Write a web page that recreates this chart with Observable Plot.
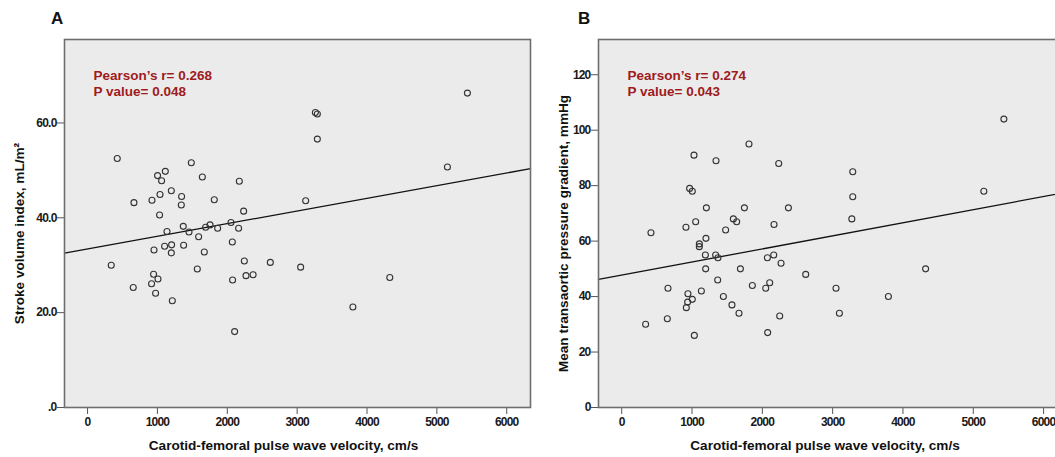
<!DOCTYPE html>
<html><head><meta charset="utf-8">
<script src="https://cdn.jsdelivr.net/npm/d3@7"></script>
<script src="https://cdn.jsdelivr.net/npm/@observablehq/plot@0.6"></script>
<style>
html,body{margin:0;padding:0;background:#fff;overflow:hidden;}
#wrap{position:relative;width:1055px;height:457px;overflow:hidden;background:#fff;}
.panel{position:absolute;top:0;}
.letter{position:absolute;top:9px;font:bold 17px "Liberation Sans", Arial, sans-serif;color:#111;}
</style></head><body><div id="wrap"></div><script>
// ---- Panel A data: PWV (cm/s) vs stroke volume index (mL/m²)
const pwvA = [339,425,654,664,916,922,945,951,974,1002,1008,1031,1037,1060,1103,1113,1137,1199,1199,1203,1213,1342,1346,1370,1375,1452,1485,1571,1590,1643,1671,1690,1753,1814,1862,2053,2072,2076,2105,2162,2172,2234,2244,2268,2369,2616,3050,3122,3261,3289,3289,3798,4326,5151,5437];
const sviA = [30.0,52.5,25.3,43.2,26.1,43.7,28.1,33.2,24.1,48.9,27.1,40.6,44.9,47.8,34.0,49.8,37.1,45.7,32.6,34.3,22.5,42.7,44.5,38.2,34.2,37.0,51.6,29.2,36.0,48.6,32.8,38.0,38.5,43.8,37.8,39.0,34.9,26.9,16.0,37.8,47.7,41.4,30.9,27.8,28.0,30.6,29.6,43.6,62.2,61.9,56.6,21.2,27.4,50.7,66.3];
// ---- Panel B data: PWV (cm/s) vs mean transaortic pressure gradient (mmHg)
const pwvB = [340,416,649,658,914,919,938,942,966,1004,1004,1028,1033,1052,1104,1104,1133,1190,1194,1198,1204,1336,1341,1365,1369,1446,1478,1568,1588,1635,1668,1688,1745,1810,1858,2048,2072,2076,2105,2162,2166,2233,2247,2266,2371,2617,3048,3096,3273,3286,3286,3793,4322,5150,5435];
const mtpgB = [30,63,32,43,65,36,38,41,79,78,39,91,26,67,59,58,42,55,50,61,72,55,89,46,54,40,64,37,68,67,34,50,72,95,44,43,54,27,45,55,66,88,33,52,72,48,43,34,68,85,76,40,50,78,104];
// ---- Fitted regression lines [intercept, slope]
const fitA = [33.43, 0.002671];
const fitB = [47.74, 0.004723];
// ---- Axes
const xDomain = [-330, 6340];
const xTicks = [0,1000,2000,3000,4000,5000,6000];
const yDomainA = [0, 77.6];
const yTicksA = [0,20,40,60];
const yDomainB = [0, 132.7];
const yTicksB = [0,20,40,60,80,100,120];
// ---- Texts
const xTitle = "Carotid-femoral pulse wave velocity, cm/s";
const yTitleA = "Stroke volume index, mL/m²";
const yTitleB = "Mean transaortic pressure gradient, mmHg";
const statsA = ["Pearson’s r= 0.268", "P value= 0.048"];
const statsB = ["Pearson’s r= 0.274", "P value= 0.043"];

const font = "'Liberation Sans',Arial,sans-serif";

function panel({pwv, val, fit, yDomain, yTicks, yFmt, yTitle, stats, width, yTitleDx, xTitleDx}) {
  const pts = pwv.map((x, i) => ({x, y: val[i]}));
  const line = xDomain.map(x => ({x, y: fit[0] + fit[1] * x}));
  const svg = Plot.plot({
    width, height: 457,
    marginLeft: 64, marginTop: 39, marginRight: 2, marginBottom: 50,
    x: {domain: xDomain},
    y: {domain: yDomain},
    style: {fontFamily: font, fontWeight: "bold", fontSize: "12px", color: "#1a1a1a", background: "transparent", overflow: "visible"},
    marks: [
      Plot.frame({fill: "#ebebeb"}),
      Plot.axisX({ticks: xTicks, tickFormat: d => String(d), tickSize: 7, tickPadding: 3, label: null, stroke: "#555"}),
      Plot.axisY({ticks: yTicks, tickFormat: yFmt, tickSize: 7, tickPadding: 1, label: null, stroke: "#555"}),
      Plot.line(line, {x: "x", y: "y", stroke: "#111", strokeWidth: 1.3}),
      Plot.dot(pts, {x: "x", y: "y", r: 3, stroke: "#333", strokeWidth: 1.1, fill: "none"}),
      Plot.frame({stroke: "#6e6e6e", strokeWidth: 1.6}),
      Plot.text([xTitle], {frameAnchor: "bottom", dy: 42, dx: xTitleDx, fontFamily: font, fontSize: 13.6, fontWeight: "bold", fill: "#111"}),
      Plot.text([yTitle], {frameAnchor: "left", textAnchor: "middle", rotate: -90, dx: yTitleDx, dy: 10, fontFamily: font, fontSize: 13.6, fontWeight: "bold", fill: "#111"}),
      Plot.text([stats.join("\n")], {frameAnchor: "top-left", dx: 29, dy: 29, lineAnchor: "top", textAnchor: "start", lineHeight: 1.2, fontFamily: font, fontSize: 13.5, fontWeight: "bold", fill: "#9e1b20"})
    ]
  });
  svg.querySelectorAll('g[aria-label$="tick label"]').forEach(g => { g.style.letterSpacing = "-0.8px"; });
  return svg;
}

const wrap = document.getElementById("wrap");
const a = panel({pwv: pwvA, val: sviA, fit: fitA, yDomain: yDomainA, yTicks: yTicksA,
  yFmt: d => d === 0 ? ".0" : d.toFixed(1), yTitle: yTitleA, stats: statsA, width: 532, yTitleDx: -45, xTitleDx: -14});
a.classList.add("panel"); a.style.left = "0px";
wrap.appendChild(a);
const b = panel({pwv: pwvB, val: mtpgB, fit: fitB, yDomain: yDomainB, yTicks: yTicksB,
  yFmt: d => String(d), yTitle: yTitleB, stats: statsB, width: 535, yTitleDx: -35, xTitleDx: -8});
b.classList.add("panel"); b.style.left = "534px";
wrap.appendChild(b);
for (const [t, l] of [["A", 51], ["B", 578]]) {
  const d = document.createElement("div");
  d.className = "letter"; d.textContent = t; d.style.left = l + "px";
  wrap.appendChild(d);
}
</script></body></html>
